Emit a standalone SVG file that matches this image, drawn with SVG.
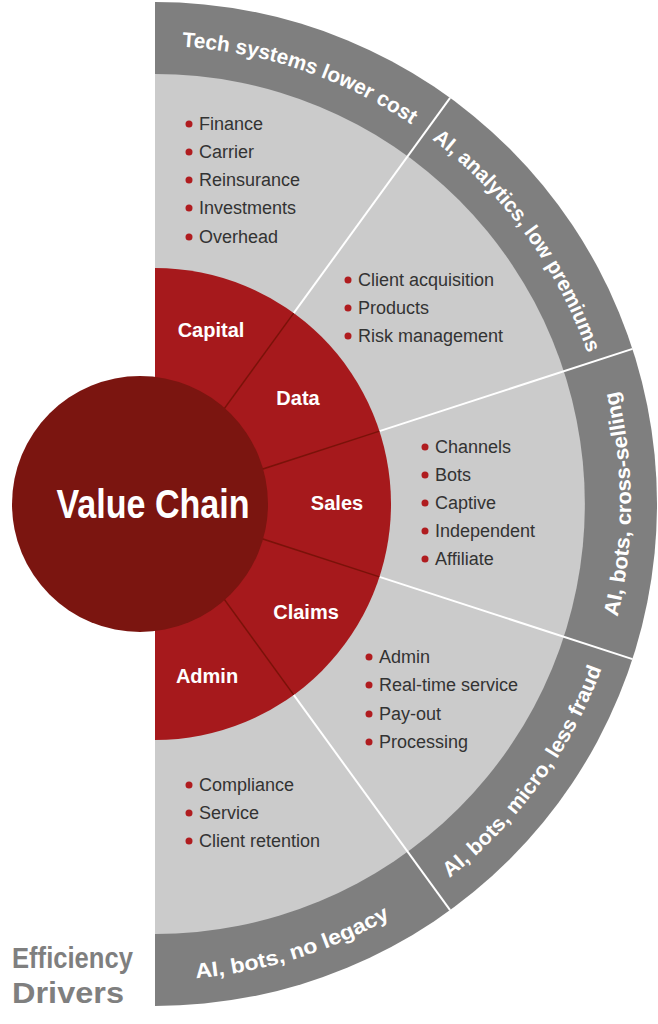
<svg xmlns="http://www.w3.org/2000/svg" width="658" height="1024" viewBox="0 0 658 1024">
<style>
.ring{font-family:"Liberation Sans",Arial,sans-serif;font-weight:bold;font-size:21px;fill:#fff}
.red{font-family:"Liberation Sans",Arial,sans-serif;font-weight:bold;font-size:20px;fill:#fff;text-anchor:middle}
.li{font-family:"Liberation Sans",Arial,sans-serif;font-size:18px;fill:#333}
.b{fill:#b01c1f}
.sep{stroke:#fff;stroke-width:2}
.rsep{stroke:#7a1209;stroke-width:1.5}
</style>
<defs>
<path id="p1" d="M155,46 A458,458 0 0 1 424.2,133.5"/>
<path id="p2" d="M424.2,133.5 A458,458 0 0 1 590.6,362.5"/>
<path id="p3" d="M631,654 A476,476 0 0 0 631,354"/>
<path id="p3b" d="M607.7,651.1 A476,476 0 0 0 607.7,356.9"/>
<path id="p4" d="M434.8,889.1 A476,476 0 0 0 607.7,651.1"/>
<path id="p5" d="M155,980 A476,476 0 0 0 434.8,889.1"/>
</defs>
<g id="background">
<path d="M155,2 A502,502 0 0 1 155,1006 Z" fill="#7f7f7f"/>
<path d="M155,74 A430,430 0 0 1 155,934 Z" fill="#cbcbcb"/>
<path d="M155,268 A236,236 0 0 1 155,740 Z" fill="#a6191c"/>
</g>
<g id="connectors">
<line class="sep" x1="293.7" y1="313.1" x2="450.1" y2="97.9"/>
<line class="sep" x1="379.5" y1="431.1" x2="632.5" y2="348.9"/>
<line class="sep" x1="379.5" y1="576.9" x2="632.5" y2="659.1"/>
<line class="sep" x1="293.7" y1="694.9" x2="450.1" y2="910.1"/>
<line class="rsep" x1="155" y1="504" x2="293.7" y2="313.1"/>
<line class="rsep" x1="155" y1="504" x2="379.5" y2="431.1"/>
<line class="rsep" x1="155" y1="504" x2="379.5" y2="576.9"/>
<line class="rsep" x1="155" y1="504" x2="293.7" y2="694.9"/>
</g>
<g id="ring-labels">
<text class="ring" text-anchor="middle"><textPath href="#p1" startOffset="52%" textLength="245" lengthAdjust="spacingAndGlyphs">Tech systems lower cost</textPath></text>
<text class="ring" text-anchor="middle"><textPath href="#p2" startOffset="50%" textLength="268" lengthAdjust="spacingAndGlyphs">AI, analytics, low premiums</textPath></text>
<text class="ring" text-anchor="middle"><textPath href="#p3b" startOffset="50%" textLength="228" lengthAdjust="spacingAndGlyphs">AI, bots, cross-selling</textPath></text>
<text class="ring" text-anchor="middle"><textPath href="#p4" startOffset="50%" textLength="262" lengthAdjust="spacingAndGlyphs">AI, bots, micro, less fraud</textPath></text>
<text class="ring" text-anchor="middle"><textPath href="#p5" startOffset="48%" textLength="205" lengthAdjust="spacingAndGlyphs">AI, bots, no legacy</textPath></text>
</g>
<g id="capital"><text class="red" x="211" y="337">Capital</text></g>
<g id="data"><text class="red" x="298" y="405">Data</text></g>
<g id="sales"><text class="red" x="337" y="510">Sales</text></g>
<g id="claims"><text class="red" x="306" y="619">Claims</text></g>
<g id="admin"><text class="red" x="207" y="683">Admin</text></g>
<g id="value-chain">
<circle cx="140" cy="504" r="128" fill="#7b1510"/>
<text x="153" y="518" text-anchor="middle" font-family="Liberation Sans,Arial,sans-serif" font-weight="bold" font-size="40" fill="#fff" textLength="193" lengthAdjust="spacingAndGlyphs">Value Chain</text>
</g>
<g id="list-capital">
<circle class="b" cx="189" cy="124" r="3.5"/><text class="li" x="199" y="130">Finance</text>
<circle class="b" cx="189" cy="152" r="3.5"/><text class="li" x="199" y="158">Carrier</text>
<circle class="b" cx="189" cy="180" r="3.5"/><text class="li" x="199" y="186">Reinsurance</text>
<circle class="b" cx="189" cy="208" r="3.5"/><text class="li" x="199" y="214">Investments</text>
<circle class="b" cx="189" cy="237" r="3.5"/><text class="li" x="199" y="243">Overhead</text>
</g>
<g id="list-data">
<circle class="b" cx="348" cy="280" r="3.5"/><text class="li" x="358" y="286">Client acquisition</text>
<circle class="b" cx="348" cy="308" r="3.5"/><text class="li" x="358" y="314">Products</text>
<circle class="b" cx="348" cy="336" r="3.5"/><text class="li" x="358" y="342">Risk management</text>
</g>
<g id="list-sales">
<circle class="b" cx="425" cy="447" r="3.5"/><text class="li" x="435" y="453">Channels</text>
<circle class="b" cx="425" cy="475" r="3.5"/><text class="li" x="435" y="481">Bots</text>
<circle class="b" cx="425" cy="503" r="3.5"/><text class="li" x="435" y="509">Captive</text>
<circle class="b" cx="425" cy="531" r="3.5"/><text class="li" x="435" y="537">Independent</text>
<circle class="b" cx="425" cy="559" r="3.5"/><text class="li" x="435" y="565">Affiliate</text>
</g>
<g id="list-claims">
<circle class="b" cx="369" cy="657" r="3.5"/><text class="li" x="379" y="663">Admin</text>
<circle class="b" cx="369" cy="685" r="3.5"/><text class="li" x="379" y="691">Real-time service</text>
<circle class="b" cx="369" cy="714" r="3.5"/><text class="li" x="379" y="720">Pay-out</text>
<circle class="b" cx="369" cy="742" r="3.5"/><text class="li" x="379" y="748">Processing</text>
</g>
<g id="list-admin">
<circle class="b" cx="189" cy="785" r="3.5"/><text class="li" x="199" y="791">Compliance</text>
<circle class="b" cx="189" cy="813" r="3.5"/><text class="li" x="199" y="819">Service</text>
<circle class="b" cx="189" cy="841" r="3.5"/><text class="li" x="199" y="847">Client retention</text>
</g>
<g id="efficiency-drivers" font-family="Liberation Sans,Arial,sans-serif" font-weight="bold" font-size="30" fill="#7f7f7f">
<text x="12" y="968" textLength="121" lengthAdjust="spacingAndGlyphs">Efficiency</text>
<text x="12" y="1003" textLength="112" lengthAdjust="spacingAndGlyphs">Drivers</text>
</g>
</svg>
